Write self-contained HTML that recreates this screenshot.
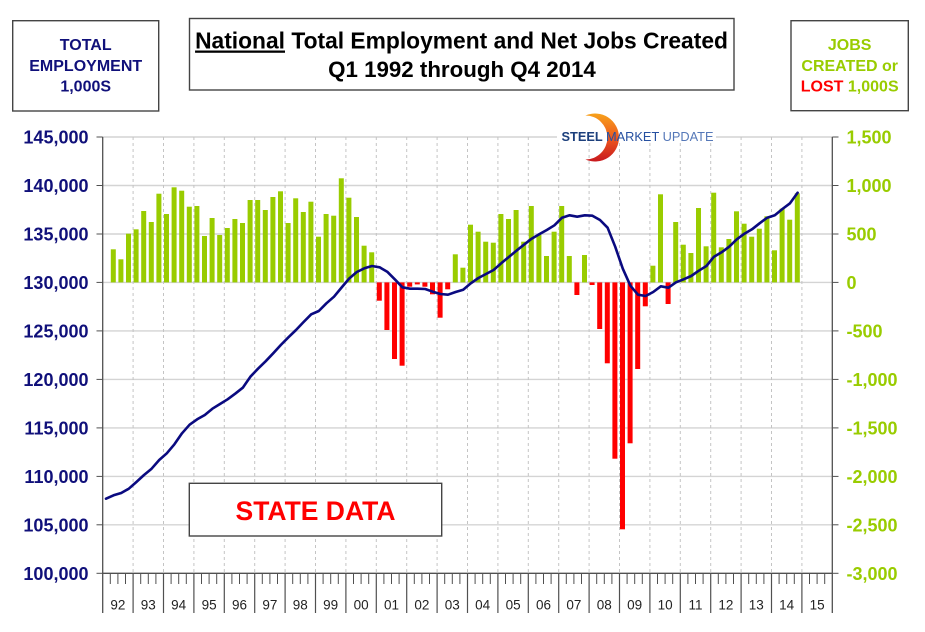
<!DOCTYPE html>
<html><head><meta charset="utf-8"><style>
html,body{margin:0;padding:0;background:#fff;}
svg{display:block;}
text{font-family:"Liberation Sans",Arial,sans-serif;}
</style></head><body>
<svg width="925" height="632" viewBox="0 0 925 632" xmlns="http://www.w3.org/2000/svg">
<rect width="925" height="632" fill="#fff"/>
<!-- horizontal gridlines -->
<g stroke="#d4d4d4" stroke-width="1.4">
<line x1="102.7" y1="137" x2="832.3" y2="137"/>
<line x1="102.7" y1="185.5" x2="832.3" y2="185.5"/>
<line x1="102.7" y1="234" x2="832.3" y2="234"/>
<line x1="102.7" y1="282.4" x2="832.3" y2="282.4"/>
<line x1="102.7" y1="330.9" x2="832.3" y2="330.9"/>
<line x1="102.7" y1="379.4" x2="832.3" y2="379.4"/>
<line x1="102.7" y1="427.9" x2="832.3" y2="427.9"/>
<line x1="102.7" y1="476.4" x2="832.3" y2="476.4"/>
<line x1="102.7" y1="524.8" x2="832.3" y2="524.8"/>
</g>
<!-- vertical dashed year gridlines -->
<g stroke="#c4c4c4" stroke-width="1" stroke-dasharray="3,3">
<line x1="133.1" y1="137" x2="133.1" y2="573"/><line x1="163.5" y1="137" x2="163.5" y2="573"/><line x1="193.9" y1="137" x2="193.9" y2="573"/><line x1="224.3" y1="137" x2="224.3" y2="573"/><line x1="254.7" y1="137" x2="254.7" y2="573"/><line x1="285.1" y1="137" x2="285.1" y2="573"/><line x1="315.5" y1="137" x2="315.5" y2="573"/><line x1="345.9" y1="137" x2="345.9" y2="573"/><line x1="376.3" y1="137" x2="376.3" y2="573"/><line x1="406.7" y1="137" x2="406.7" y2="573"/><line x1="437.1" y1="137" x2="437.1" y2="573"/><line x1="467.5" y1="137" x2="467.5" y2="573"/><line x1="497.9" y1="137" x2="497.9" y2="573"/><line x1="528.3" y1="137" x2="528.3" y2="573"/><line x1="558.7" y1="137" x2="558.7" y2="573"/><line x1="589.1" y1="137" x2="589.1" y2="573"/><line x1="619.5" y1="137" x2="619.5" y2="573"/><line x1="649.9" y1="137" x2="649.9" y2="573"/><line x1="680.3" y1="137" x2="680.3" y2="573"/><line x1="710.7" y1="137" x2="710.7" y2="573"/><line x1="741.1" y1="137" x2="741.1" y2="573"/><line x1="771.5" y1="137" x2="771.5" y2="573"/><line x1="801.9" y1="137" x2="801.9" y2="573"/>
</g>
<!-- green bars -->
<g fill="#99cc00">
<rect x="110.8" y="249.3" width="5" height="33.1"/>
<rect x="118.4" y="259.3" width="5" height="23.1"/>
<rect x="126.0" y="233.7" width="5" height="48.7"/>
<rect x="133.6" y="229.3" width="5" height="53.1"/>
<rect x="141.2" y="211" width="5" height="71.4"/>
<rect x="148.8" y="222" width="5" height="60.4"/>
<rect x="156.4" y="193.7" width="5" height="88.7"/>
<rect x="164.0" y="214" width="5" height="68.4"/>
<rect x="171.6" y="187.3" width="5" height="95.1"/>
<rect x="179.2" y="190.7" width="5" height="91.7"/>
<rect x="186.8" y="206.7" width="5" height="75.7"/>
<rect x="194.4" y="206" width="5" height="76.4"/>
<rect x="202.0" y="236" width="5" height="46.4"/>
<rect x="209.6" y="218" width="5" height="64.4"/>
<rect x="217.2" y="235" width="5" height="47.4"/>
<rect x="224.8" y="228" width="5" height="54.4"/>
<rect x="232.4" y="219" width="5" height="63.4"/>
<rect x="240.0" y="223" width="5" height="59.4"/>
<rect x="247.6" y="200" width="5" height="82.4"/>
<rect x="255.2" y="200" width="5" height="82.4"/>
<rect x="262.8" y="210" width="5" height="72.4"/>
<rect x="270.4" y="197" width="5" height="85.4"/>
<rect x="278.0" y="191.3" width="5" height="91.1"/>
<rect x="285.6" y="223" width="5" height="59.4"/>
<rect x="293.2" y="198.3" width="5" height="84.1"/>
<rect x="300.8" y="212" width="5" height="70.4"/>
<rect x="308.4" y="201.7" width="5" height="80.7"/>
<rect x="316.0" y="236.7" width="5" height="45.7"/>
<rect x="323.6" y="214" width="5" height="68.4"/>
<rect x="331.2" y="215.7" width="5" height="66.7"/>
<rect x="338.8" y="178.3" width="5" height="104.1"/>
<rect x="346.4" y="197.7" width="5" height="84.7"/>
<rect x="354.0" y="217" width="5" height="65.4"/>
<rect x="361.6" y="245.7" width="5" height="36.7"/>
<rect x="369.2" y="252.3" width="5" height="30.1"/>
<rect x="452.8" y="254.3" width="5" height="28.1"/>
<rect x="460.4" y="267.7" width="5" height="14.7"/>
<rect x="468.0" y="224.7" width="5" height="57.7"/>
<rect x="475.6" y="231.7" width="5" height="50.7"/>
<rect x="483.2" y="241.7" width="5" height="40.7"/>
<rect x="490.8" y="242.7" width="5" height="39.7"/>
<rect x="498.4" y="214" width="5" height="68.4"/>
<rect x="506.0" y="219" width="5" height="63.4"/>
<rect x="513.6" y="210" width="5" height="72.4"/>
<rect x="521.2" y="241.7" width="5" height="40.7"/>
<rect x="528.8" y="206" width="5" height="76.4"/>
<rect x="536.4" y="235" width="5" height="47.4"/>
<rect x="544.0" y="256" width="5" height="26.4"/>
<rect x="551.6" y="231.7" width="5" height="50.7"/>
<rect x="559.2" y="206" width="5" height="76.4"/>
<rect x="566.8" y="256" width="5" height="26.4"/>
<rect x="582.0" y="255" width="5" height="27.4"/>
<rect x="650.4" y="265.7" width="5" height="16.7"/>
<rect x="658.0" y="194.3" width="5" height="88.1"/>
<rect x="673.2" y="222" width="5" height="60.4"/>
<rect x="680.8" y="244.7" width="5" height="37.7"/>
<rect x="688.4" y="253" width="5" height="29.4"/>
<rect x="696.0" y="208" width="5" height="74.4"/>
<rect x="703.6" y="246.3" width="5" height="36.1"/>
<rect x="711.2" y="192.7" width="5" height="89.7"/>
<rect x="718.8" y="247.3" width="5" height="35.1"/>
<rect x="726.4" y="239" width="5" height="43.4"/>
<rect x="734.0" y="211.3" width="5" height="71.1"/>
<rect x="741.6" y="223.7" width="5" height="58.7"/>
<rect x="749.2" y="236.7" width="5" height="45.7"/>
<rect x="756.8" y="228.7" width="5" height="53.7"/>
<rect x="764.4" y="216.3" width="5" height="66.1"/>
<rect x="772.0" y="250.3" width="5" height="32.1"/>
<rect x="779.6" y="208.7" width="5" height="73.7"/>
<rect x="787.2" y="219.7" width="5" height="62.7"/>
<rect x="794.8" y="193.3" width="5" height="89.1"/>
</g>
<!-- red bars -->
<g fill="#ff0000">
<rect x="376.8" y="282.4" width="5" height="18.3"/>
<rect x="384.4" y="282.4" width="5" height="47.6"/>
<rect x="392.0" y="282.4" width="5" height="76.6"/>
<rect x="399.6" y="282.4" width="5" height="83.3"/>
<rect x="407.2" y="282.4" width="5" height="4.3"/>
<rect x="414.8" y="282.4" width="5" height="2"/>
<rect x="422.4" y="282.4" width="5" height="4.3"/>
<rect x="430.0" y="282.4" width="5" height="11.9"/>
<rect x="437.6" y="282.4" width="5" height="35.3"/>
<rect x="445.2" y="282.4" width="5" height="6.9"/>
<rect x="574.4" y="282.4" width="5" height="12.6"/>
<rect x="589.6" y="282.4" width="5" height="2.6"/>
<rect x="597.2" y="282.4" width="5" height="46.6"/>
<rect x="604.8" y="282.4" width="5" height="80.9"/>
<rect x="612.4" y="282.4" width="5" height="176.3"/>
<rect x="620.0" y="282.4" width="5" height="246.9"/>
<rect x="627.6" y="282.4" width="5" height="160.9"/>
<rect x="635.2" y="282.4" width="5" height="86.6"/>
<rect x="642.8" y="282.4" width="5" height="23.9"/>
<rect x="665.6" y="282.4" width="5" height="21.6"/>
</g>
<!-- employment line -->
<polyline fill="none" stroke="#0a0a80" stroke-width="2.6" stroke-linejoin="round" stroke-linecap="round" points="106,498.7 113.6,495.3 121.2,493 128.8,488.7 136.4,482 144,475 151.6,468.7 159.2,460 166.8,453.3 174.4,444.3 182,433.3 189.6,424.7 197.2,419.3 204.8,415 212.4,408.7 220,404 227.6,399.3 235.2,393.7 242.8,387.7 250.4,376.7 258,368.7 265.6,361.3 273.2,353.3 280.8,345 288.4,337.3 296,330 303.6,322 311.2,314.3 318.8,311 326.4,303.3 334,296.7 341.6,287.5 349.2,278.5 356.8,272 364.4,268.3 372,266 379.6,267.3 387.2,271.7 394.8,279.3 402.4,287.3 410,288.7 417.6,288.7 425.2,289 432.8,291.7 440.4,294 448,294.7 455.6,292 463.2,289.7 470.8,283.3 478.4,278 486,274 493.6,270 501.2,263.3 508.8,257 516.4,250.7 524,244.7 531.6,238.7 539.2,234.3 546.8,230 554.4,225.3 562,217.7 569.6,215.3 577.2,216.7 584.8,215.3 592.4,215.7 600,220 607.6,227.7 615.2,246.7 622.8,268.7 630.4,285.7 638,294.7 645.6,296 653.2,292 660.8,286.3 668.4,287.7 676,282.3 683.6,279.3 691.2,276 698.8,270.7 706.4,266 714,256.7 721.6,252.3 729.2,246.7 736.8,239.3 744.4,233.7 752,229.3 759.6,223.3 767.2,217.7 774.8,215.3 782.4,209 790,203.3 797.6,192.7"/>
<!-- axes -->
<g stroke="#505050" stroke-width="1.3">
<line x1="102.7" y1="137" x2="102.7" y2="613"/>
<line x1="832.3" y1="137" x2="832.3" y2="613"/>
<line x1="102.7" y1="573.3" x2="832.3" y2="573.3"/>
</g>
<g stroke="#505050" stroke-width="1">
<line x1="96.5" y1="137" x2="102.7" y2="137"/><line x1="96.5" y1="185.5" x2="102.7" y2="185.5"/><line x1="96.5" y1="234" x2="102.7" y2="234"/><line x1="96.5" y1="282.4" x2="102.7" y2="282.4"/><line x1="96.5" y1="330.9" x2="102.7" y2="330.9"/><line x1="96.5" y1="379.4" x2="102.7" y2="379.4"/><line x1="96.5" y1="427.9" x2="102.7" y2="427.9"/><line x1="96.5" y1="476.4" x2="102.7" y2="476.4"/><line x1="96.5" y1="524.8" x2="102.7" y2="524.8"/><line x1="96.5" y1="573.3" x2="102.7" y2="573.3"/>
<line x1="832.3" y1="137" x2="838.5" y2="137"/><line x1="832.3" y1="185.5" x2="838.5" y2="185.5"/><line x1="832.3" y1="234" x2="838.5" y2="234"/><line x1="832.3" y1="282.4" x2="838.5" y2="282.4"/><line x1="832.3" y1="330.9" x2="838.5" y2="330.9"/><line x1="832.3" y1="379.4" x2="838.5" y2="379.4"/><line x1="832.3" y1="427.9" x2="838.5" y2="427.9"/><line x1="832.3" y1="476.4" x2="838.5" y2="476.4"/><line x1="832.3" y1="524.8" x2="838.5" y2="524.8"/><line x1="832.3" y1="573.3" x2="838.5" y2="573.3"/>
</g>
<!-- year ticks (long) -->
<g stroke="#505050" stroke-width="1.2">
<line x1="133.1" y1="573" x2="133.1" y2="613"/><line x1="163.5" y1="573" x2="163.5" y2="613"/><line x1="193.9" y1="573" x2="193.9" y2="613"/><line x1="224.3" y1="573" x2="224.3" y2="613"/><line x1="254.7" y1="573" x2="254.7" y2="613"/><line x1="285.1" y1="573" x2="285.1" y2="613"/><line x1="315.5" y1="573" x2="315.5" y2="613"/><line x1="345.9" y1="573" x2="345.9" y2="613"/><line x1="376.3" y1="573" x2="376.3" y2="613"/><line x1="406.7" y1="573" x2="406.7" y2="613"/><line x1="437.1" y1="573" x2="437.1" y2="613"/><line x1="467.5" y1="573" x2="467.5" y2="613"/><line x1="497.9" y1="573" x2="497.9" y2="613"/><line x1="528.3" y1="573" x2="528.3" y2="613"/><line x1="558.7" y1="573" x2="558.7" y2="613"/><line x1="589.1" y1="573" x2="589.1" y2="613"/><line x1="619.5" y1="573" x2="619.5" y2="613"/><line x1="649.9" y1="573" x2="649.9" y2="613"/><line x1="680.3" y1="573" x2="680.3" y2="613"/><line x1="710.7" y1="573" x2="710.7" y2="613"/><line x1="741.1" y1="573" x2="741.1" y2="613"/><line x1="771.5" y1="573" x2="771.5" y2="613"/><line x1="801.9" y1="573" x2="801.9" y2="613"/>
</g>
<!-- quarter ticks -->
<g stroke="#505050" stroke-width="1">
<path d="M110.3 573v11M117.9 573v11M125.5 573v11M140.7 573v11M148.3 573v11M155.9 573v11M171.1 573v11M178.7 573v11M186.3 573v11M201.5 573v11M209.1 573v11M216.7 573v11M231.9 573v11M239.5 573v11M247.1 573v11M262.3 573v11M269.9 573v11M277.5 573v11M292.7 573v11M300.3 573v11M307.9 573v11M323.1 573v11M330.7 573v11M338.3 573v11M353.5 573v11M361.1 573v11M368.7 573v11M383.9 573v11M391.5 573v11M399.1 573v11M414.3 573v11M421.9 573v11M429.5 573v11M444.7 573v11M452.3 573v11M459.9 573v11M475.1 573v11M482.7 573v11M490.3 573v11M505.5 573v11M513.1 573v11M520.7 573v11M535.9 573v11M543.5 573v11M551.1 573v11M566.3 573v11M573.9 573v11M581.5 573v11M596.7 573v11M604.3 573v11M611.9 573v11M627.1 573v11M634.7 573v11M642.3 573v11M657.5 573v11M665.1 573v11M672.7 573v11M687.9 573v11M695.5 573v11M703.1 573v11M718.3 573v11M725.9 573v11M733.5 573v11M748.7 573v11M756.3 573v11M763.9 573v11M779.1 573v11M786.7 573v11M794.3 573v11M809.5 573v11M817.1 573v11M824.7 573v11"/>
</g>
<!-- x labels -->
<g font-size="13.5" fill="#222" text-anchor="middle">
<text x="117.9" y="609.5">92</text><text x="148.3" y="609.5">93</text><text x="178.7" y="609.5">94</text><text x="209.1" y="609.5">95</text><text x="239.5" y="609.5">96</text><text x="269.9" y="609.5">97</text><text x="300.3" y="609.5">98</text><text x="330.7" y="609.5">99</text><text x="361.1" y="609.5">00</text><text x="391.5" y="609.5">01</text><text x="421.9" y="609.5">02</text><text x="452.3" y="609.5">03</text><text x="482.7" y="609.5">04</text><text x="513.1" y="609.5">05</text><text x="543.5" y="609.5">06</text><text x="573.9" y="609.5">07</text><text x="604.3" y="609.5">08</text><text x="634.7" y="609.5">09</text><text x="665.1" y="609.5">10</text><text x="695.5" y="609.5">11</text><text x="725.9" y="609.5">12</text><text x="756.3" y="609.5">13</text><text x="786.7" y="609.5">14</text><text x="817.1" y="609.5">15</text>
</g>
<!-- left labels -->
<g font-size="18" font-weight="bold" fill="#10107a" text-anchor="end">
<text x="88.5" y="143.5">145,000</text><text x="88.5" y="192">140,000</text><text x="88.5" y="240.5">135,000</text><text x="88.5" y="288.9">130,000</text><text x="88.5" y="337.4">125,000</text><text x="88.5" y="385.9">120,000</text><text x="88.5" y="434.4">115,000</text><text x="88.5" y="482.9">110,000</text><text x="88.5" y="531.3">105,000</text><text x="88.5" y="579.8">100,000</text>
</g>
<!-- right labels -->
<g font-size="18" font-weight="bold" fill="#99cc00" text-anchor="start">
<text x="846.5" y="143.5">1,500</text><text x="846.5" y="192">1,000</text><text x="846.5" y="240.5">500</text><text x="846.5" y="288.9">0</text><text x="846.5" y="337.4">-500</text><text x="846.5" y="385.9">-1,000</text><text x="846.5" y="434.4">-1,500</text><text x="846.5" y="482.9">-2,000</text><text x="846.5" y="531.3">-2,500</text><text x="846.5" y="579.8">-3,000</text>
</g>
<!-- logo -->
<rect x="557" y="133" width="159" height="9" fill="#fff"/>
<defs><linearGradient id="lg" x1="0" y1="0" x2="0" y2="1"><stop offset="0" stop-color="#f7a21b"/><stop offset="0.5" stop-color="#ee5a1f"/><stop offset="1" stop-color="#c8181e"/></linearGradient></defs>
<path d="M585.4 115.5 A24 24 0 1 1 585.4 159.5 A22 22 0 1 0 585.4 115.5 Z" fill="url(#lg)"/>
<text x="561.5" y="141" font-size="12.5" textLength="152" lengthAdjust="spacingAndGlyphs"><tspan font-weight="bold" fill="#1c3f7c">STEEL </tspan><tspan fill="#2650a0">MARKET </tspan><tspan fill="#5578b8">UPDATE</tspan></text>
<!-- title box -->
<rect x="189.5" y="18.5" width="544.5" height="71.5" fill="#fff" stroke="#444" stroke-width="1.4"/>
<text x="461.5" y="48.5" font-size="22.8" font-weight="bold" fill="#000" text-anchor="middle"><tspan text-decoration="underline">National</tspan> Total Employment and Net Jobs Created</text>
<text x="462" y="77" font-size="22.3" font-weight="bold" fill="#000" text-anchor="middle">Q1 1992 through Q4 2014</text>
<!-- left box -->
<rect x="12.7" y="20.7" width="146" height="90.3" fill="#fff" stroke="#444" stroke-width="1.4"/>
<g font-size="16" font-weight="bold" fill="#10107a" text-anchor="middle">
<text x="85.7" y="50">TOTAL</text><text x="85.7" y="71">EMPLOYMENT</text><text x="85.7" y="91.7">1,000S</text>
</g>
<!-- right box -->
<rect x="791" y="20.7" width="117.3" height="90" fill="#fff" stroke="#444" stroke-width="1.4"/>
<g font-size="16" font-weight="bold" fill="#99cc00" text-anchor="middle">
<text x="849.7" y="50">JOBS</text><text x="849.7" y="71">CREATED or</text><text x="849.7" y="91.7"><tspan fill="#ff0000">LOST</tspan> 1,000S</text>
</g>
<!-- state data box -->
<rect x="189.3" y="483.3" width="252.4" height="52.7" fill="#fff" stroke="#444" stroke-width="1.4"/>
<text x="315.5" y="520" font-size="26.5" font-weight="bold" fill="#ff0000" text-anchor="middle">STATE DATA</text>
</svg>
</body></html>
